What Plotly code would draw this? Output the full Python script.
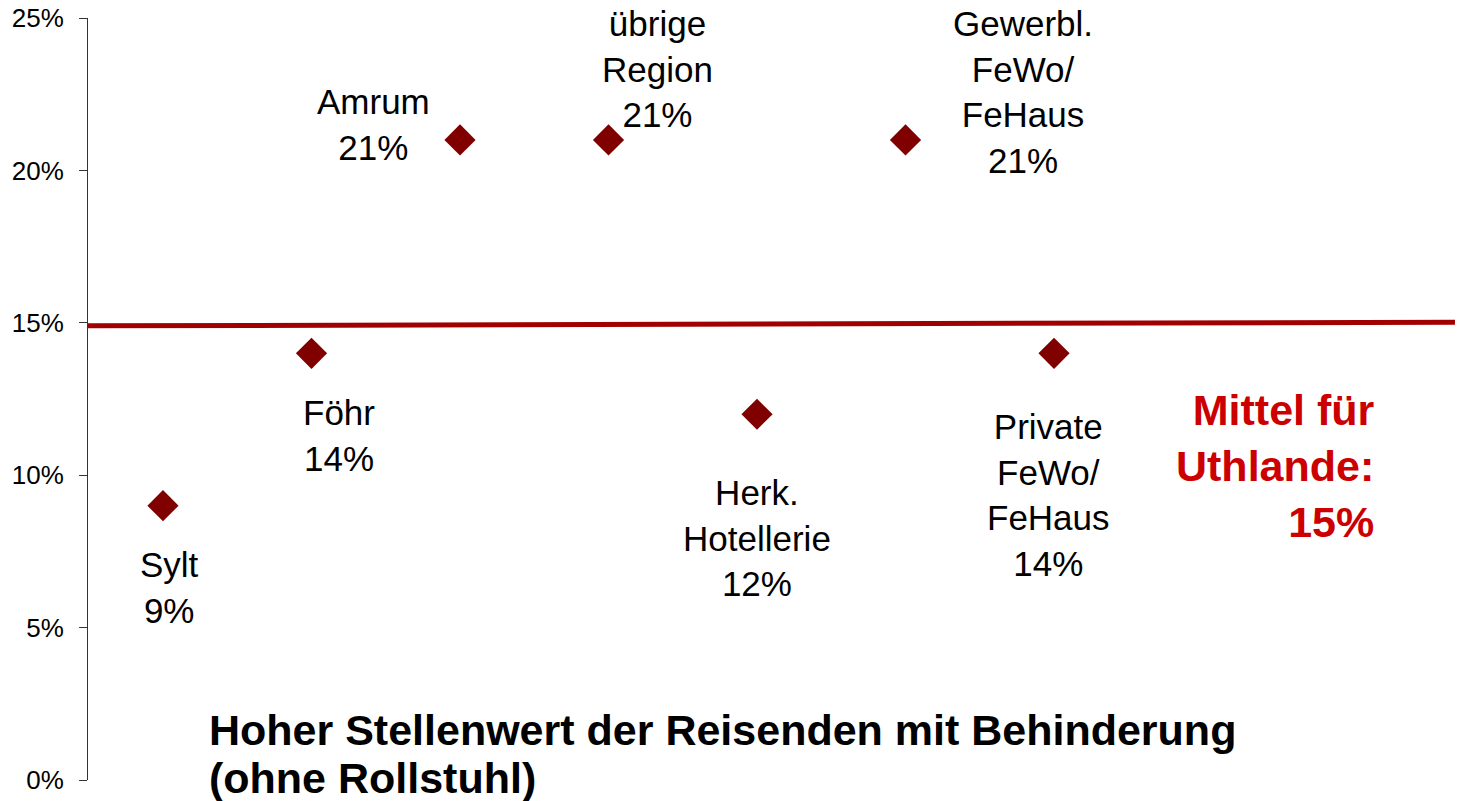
import plotly.graph_objects as go

# Data
categories = ["Sylt", "Föhr", "Amrum", "übrige<br>Region", "Herk.<br>Hotellerie",
              "Gewerbl.<br>FeWo/<br>FeHaus", "Private<br>FeWo/<br>FeHaus"]
values = [9, 14, 21, 21, 12, 21, 14]
mean_x = [-0.505, 8.70]
mean_y = [14.9, 15.02]
y_ticks = [0, 5, 10, 15, 20, 25]
y_tick_labels = ["0%", "5%", "10%", "15%", "20%", "25%"]
mean_text = "Mittel für<br>Uthlande:<br>15%"
title_lines = ["Hoher Stellenwert der Reisenden mit Behinderung", "(ohne Rollstuhl)"]

# label offsets in pixels (styling)
label_shift = [(7, -82), (27, -82), (-87, 15), (49, 71), (0, -124), (117, 48), (-6, -142)]

FONT = "Arial, 'Liberation Sans', sans-serif"
xs = list(range(len(values)))

fig = go.Figure()
fig.add_trace(go.Scatter(x=mean_x, y=mean_y, mode="lines",
                         line=dict(color="#A00000", width=5), hoverinfo="skip"))
fig.add_trace(go.Scatter(x=xs, y=values, mode="markers",
                         marker=dict(symbol="diamond", size=24, color="#800000",
                                     line=dict(width=0))))

for i, (cat, v) in enumerate(zip(categories, values)):
    dx, dy = label_shift[i]
    fig.add_annotation(x=i, y=v, xref="x", yref="y", text=f"{cat}<br>{v}%",
                       showarrow=False, xshift=dx, yshift=dy, align="center",
                       font=dict(family=FONT, size=35, color="black"))

# page-pixel layout helpers (page has 8px body margin)
PL, PT, PB = 88, 18, 780
plot_w = 1463 - PL
plot_h = PB - PT

def px(x):
    return (x - PL) / plot_w

def py(y):
    return (PB - y) / plot_h

fig.add_annotation(x=px(1377), y=py(466), xref="paper", yref="paper", text=mean_text,
                   showarrow=False, xanchor="right", yanchor="middle", align="right",
                   font=dict(family=FONT, size=43, color="#CC0000", weight="bold"))

for line, yc in zip(title_lines, [730, 778]):
    fig.add_annotation(x=px(207), y=py(yc), xref="paper", yref="paper",
                       text=line, showarrow=False, xanchor="left", yanchor="middle",
                       align="left",
                       font=dict(family=FONT, size=43, color="black", weight="bold"))

fig.update_layout(
    width=1455, height=793,
    margin=dict(l=80, r=0, t=10, b=21, autoexpand=False),
    paper_bgcolor="white", plot_bgcolor="white",
    showlegend=False,
    font=dict(family=FONT, color="black"),
    xaxis=dict(range=[-0.505, 8.754], visible=False, automargin=False),
    yaxis=dict(range=[0, 25], tickvals=y_ticks, ticktext=y_tick_labels,
               showgrid=False, zeroline=False, showline=True, linecolor="#333333",
               linewidth=1, ticks="outside", ticklen=8, tickcolor="#333333",
               tickfont=dict(family=FONT, size=26, color="black"),
               ticklabelstandoff=10, ticklabeloverflow="allow", automargin=False),
)

fig.write_html("out.html")
